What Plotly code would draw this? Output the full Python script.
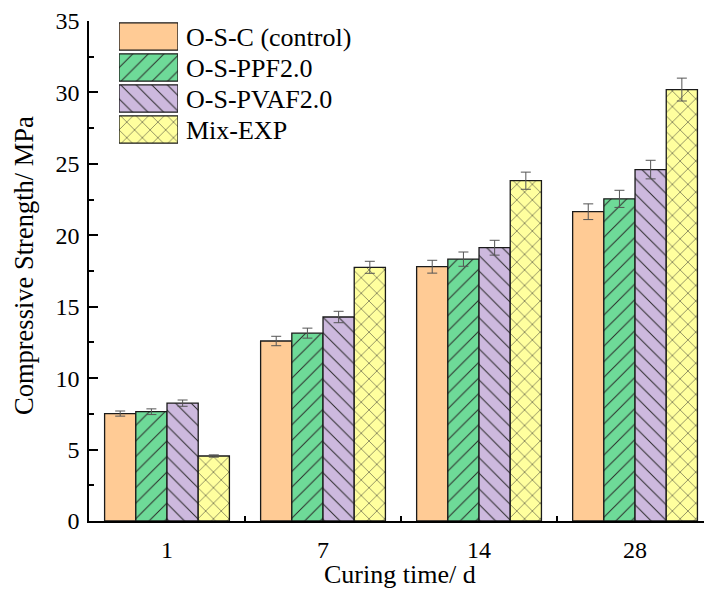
import plotly.graph_objects as go

# Curing ages (days) and compressive strength (MPa) per mix
ages = ["1", "7", "14", "28"]
series_names = ["O-S-C (control)", "O-S-PPF2.0", "O-S-PVAF2.0", "Mix-EXP"]

osc = [7.52, 12.6, 17.8, 21.65]
osc_err = [0.18, 0.33, 0.45, 0.55]
ppf = [7.65, 13.15, 18.33, 22.55]
ppf_err = [0.2, 0.35, 0.5, 0.6]
pvaf = [8.25, 14.28, 19.13, 24.6]
pvaf_err = [0.22, 0.4, 0.52, 0.65]
mix = [4.55, 17.76, 23.82, 30.2]
mix_err = [0.08, 0.42, 0.6, 0.8]

y_ticks = [0, 5, 10, 15, 20, 25, 30, 35]

fills = ["#FFCB95", "#6EDA98", "#CDB9DE", "#FFFF9E"]
hatches = ["", "/", "\\", "x"]
FONT = "Liberation Serif, Times New Roman, serif"

values = [osc, ppf, pvaf, mix]
errors = [osc_err, ppf_err, pvaf_err, mix_err]


def bar_marker(col, hat):
    return dict(
        color=col,
        line=dict(color="#1a1a1a", width=1.3),
        pattern=dict(shape=hat, fgcolor="#2a2a2a", bgcolor=col,
                     size=11, solidity=0.09, fillmode="replace"),
    )


fig = go.Figure()
for name, vals, errs, col, hat in zip(series_names, values, errors, fills, hatches):
    fig.add_trace(go.Bar(
        x=ages, y=vals, name=name, showlegend=False,
        marker=bar_marker(col, hat),
        error_y=dict(type="data", array=errs, visible=True,
                     color="#555555", thickness=1, width=5),
    ))

# Key: a small horizontal bar panel whose categories are the series names
for name, col, hat in zip(series_names, fills, hatches):
    fig.add_trace(go.Bar(
        x=[1], y=[name], orientation="h", width=0.88, offset=-0.44,
        xaxis="x2", yaxis="y2", showlegend=False, hoverinfo="skip",
        marker=bar_marker(col, hat),
    ))

fig.update_layout(
    width=704, height=592,
    margin=dict(l=89, r=0, t=21, b=71),
    paper_bgcolor="white", plot_bgcolor="white",
    font=dict(family=FONT, color="black"),
    barmode="group", bargap=0.2, bargroupgap=0,
    xaxis=dict(
        type="category", range=[-0.5, 3.442],
        showline=True, linecolor="black", linewidth=1.5,
        ticks="inside", tickson="boundaries", ticklen=5, tickwidth=1.5,
        tickcolor="black", tickfont=dict(size=24, family=FONT),
        ticklabelstandoff=6, showgrid=False, zeroline=False,
    ),
    yaxis=dict(
        range=[0, 35], tickvals=y_ticks,
        showline=True, linecolor="black", linewidth=1.5,
        ticks="inside", ticklen=9, tickwidth=1.5, tickcolor="black",
        minor=dict(dtick=2.5, ticks="inside", ticklen=5, tickwidth=1.5,
                   tickcolor="black", showgrid=False),
        tickfont=dict(size=24, family=FONT), ticklabelstandoff=3,
        showgrid=False, zeroline=False,
    ),
    xaxis2=dict(domain=[0.0488, 0.1447], range=[0, 1], anchor="y2",
                visible=False, fixedrange=True),
    yaxis2=dict(domain=[0.752, 1.0], anchor="x2", side="right",
                autorange="reversed", type="category",
                showline=False, ticks="", showgrid=False, zeroline=False,
                tickfont=dict(size=26, family=FONT), ticklabelstandoff=7,
                fixedrange=True),
    annotations=[
        dict(text="Compressive Strength/ MPa", xref="paper", yref="paper",
             x=(24 - 89) / 615, y=(521 - 266) / 500, xanchor="center",
             yanchor="middle", textangle=-90, showarrow=False,
             font=dict(size=26.5, family=FONT)),
        dict(text="Curing time/ d", xref="paper", yref="paper",
             x=(400 - 89) / 615, y=(521 - 574) / 500, xanchor="center",
             yanchor="middle", showarrow=False, font=dict(size=26, family=FONT)),
    ],
)

fig.write_html("out.html")
